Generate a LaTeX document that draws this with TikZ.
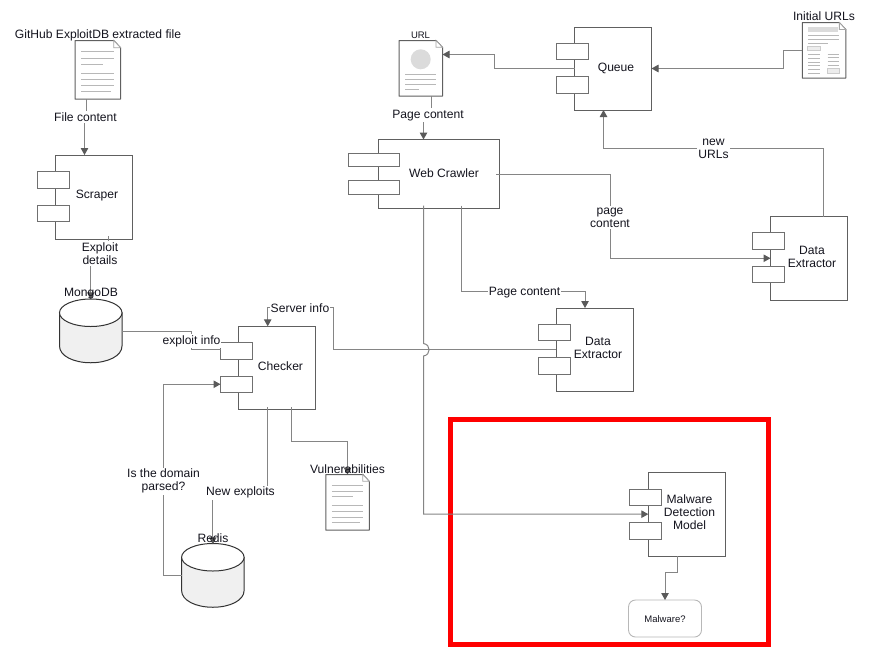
\documentclass[tikz,border=0pt]{standalone}
\usepackage{fontspec}
\setmainfont{Liberation Sans}
\usetikzlibrary{arrows.meta}
\definecolor{edgec}{HTML}{606060}
\definecolor{portc}{HTML}{707070}
\definecolor{connc}{HTML}{858585}
\definecolor{tipc}{HTML}{5A5A5A}
\definecolor{txtc}{HTML}{14141E}
\tikzset{
  mainbox/.style={draw=edgec,line width=1pt,fill=white,inner sep=0,outer sep=0},
  portbox/.style={draw=portc,line width=1pt,fill=white,inner sep=0,outer sep=0,minimum width=32pt,minimum height=16.5pt},
  widebox/.style={portbox,minimum width=51pt,minimum height=13.5pt},
  ghost/.style={inner sep=0,outer sep=0},
  lbl/.style={font=\fontsize{12.1}{13}\selectfont,text=txtc,align=center,inner sep=0,yshift=-1.3pt},
  small/.style={font=\fontsize{9.5}{11}\selectfont,text=txtc,align=center,inner sep=0,yshift=-1pt},
  whitelbl/.style={lbl,fill=white,inner xsep=1pt,inner ysep=1.5pt},
  conn/.style={draw=connc,line width=1pt,-{Triangle[length=7pt,width=7.5pt,fill=tipc,color=tipc]}},
  plainconn/.style={draw=connc,line width=1pt},
  docline/.style={draw=black!28,line width=.8pt},
  docedge/.style={draw=edgec,line width=1pt,fill=white,line join=round},
  foldedge/.style={draw=black!35,line width=.8pt,fill=white},
  dbbody/.style={draw=black!80,line width=1pt,fill=black!6},
  dbtop/.style={draw=black!80,line width=1pt,fill=white},
  redframe/.style={draw=red,line width=4.6pt,inner sep=0,outer sep=0,fill=none},
  softbox/.style={draw=black!28,line width=.9pt,rounded corners=7pt,fill=white,inner sep=0,outer sep=0},
}
% document outline in units of a 45.5 x 58.5 page
\newcommand{\pageoutline}[3]{%
  \begin{scope}[shift={(#1.north west)},x=#2pt,y=-#3pt]
    \draw[docedge] (0,0)--(38.8,0)--(45.5,7.2)--(45.5,58.5)--(0,58.5)--cycle;
    \draw[foldedge] (38.8,0)--(38.8,7.2)--(45.5,7.2)--cycle;
  \end{scope}}
\newcommand{\textlines}[3]{%
  \begin{scope}[shift={(#1.north west)},x=#2pt,y=-#3pt]
    \foreach \yy/\xx in {11.2/39.3,17.5/39.3,23.5/28,32.5/39.3,38.8/39.3,44.8/39.3,50.8/36}
      \draw[docline] (6.3,\yy)--(\xx,\yy);
  \end{scope}}
\newcommand{\dbshape}[1]{%
  \begin{scope}[shift={(#1.center)}]
    \draw[dbbody] (-31.25,-18.25)--(-31.25,15) .. controls (-31.25,25) and (-17,31.75) .. (0,31.75)
      .. controls (17,31.75) and (31.25,25) .. (31.25,15)--(31.25,-18.25)--cycle;
    \draw[dbtop] (0,-18.25) ellipse [x radius=31.25,y radius=13.75];
  \end{scope}}
\begin{document}
\begin{tikzpicture}[x=1pt,y=-1pt]
\useasboundingbox (0,0) rectangle (885,654);
\fill[white] (0,0) rectangle (885,654);

% frame
\node[redframe,minimum width=317.8pt,minimum height=224.6pt] (frame) at (609.4,532) {};

% components
\node[mainbox,minimum width=76.5pt,minimum height=84pt] (scraper) at (93.75,197) {};
\node[portbox] (scrA) at (53,179.75) {};
\node[portbox] (scrB) at (53,213.25) {};

\node[mainbox,minimum width=121pt,minimum height=69pt] (crawler) at (438.5,174) {};
\node[widebox] (craA) at (374,159.75) {};
\node[widebox] (craB) at (374,187.5) {};

\node[mainbox,minimum width=77pt,minimum height=83pt] (queue) at (613,68.5) {};
\node[portbox] (queA) at (572,51.25) {};
\node[portbox] (queB) at (572,84.75) {};

\node[mainbox,minimum width=76.5pt,minimum height=83.5pt] (deR) at (808.75,258.25) {};
\node[portbox] (deRA) at (768.25,240.75) {};
\node[portbox] (deRB) at (768.25,274.25) {};

\node[mainbox,minimum width=77pt,minimum height=83pt] (deM) at (594.5,349.5) {};
\node[portbox] (deMA) at (554,332.25) {};
\node[portbox] (deMB) at (554,366) {};

\node[mainbox,minimum width=76.75pt,minimum height=83.2pt] (checker) at (277.1,367.9) {};
\node[portbox] (chkA) at (236.5,350.75) {};
\node[portbox] (chkB) at (236.5,384.25) {};

\node[mainbox,minimum width=76.7pt,minimum height=83.7pt] (malware) at (686.65,514.15) {};
\node[portbox] (malA) at (645.5,497.25) {};
\node[portbox] (malB) at (645.5,530.75) {};

\node[softbox,minimum width=73pt,minimum height=37pt] (malq) at (665,618.5) {};

% documents
\node[ghost,minimum width=45.5pt,minimum height=58.5pt] (gh) at (97.75,69.75) {};
\pageoutline{gh}{1}{1}\textlines{gh}{1}{1}

\node[ghost,minimum width=43.5pt,minimum height=55.5pt] (vuln) at (347.5,502.25) {};
\pageoutline{vuln}{.956}{.949}\textlines{vuln}{.956}{.949}

\node[ghost,minimum width=43.5pt,minimum height=55.5pt] (url) at (420.75,68.25) {};
\pageoutline{url}{.956}{.949}
\fill[black!14] (420.7,59.3) circle [radius=10];
\foreach \yy/\xx in {74.3/436,79.3/436,84/436,89/419.3}
  \draw[docline] (405,\yy)--(\xx,\yy);

\node[ghost,minimum width=43.5pt,minimum height=55.5pt] (init) at (824,50.35) {};
\pageoutline{init}{.956}{.949}
\fill[black!14] (807.7,27) rectangle (837.7,31.7);
\foreach \yy/\xx in {35.3/839.3,39/839.3,43.3/828.3}
  \draw[docline] (808.3,\yy)--(\xx,\yy);
\draw[draw=black!20,fill=black!7,line width=.7pt] (807.7,46.3) rectangle (820,50.7);
\foreach \yy in {54,58.3,62.3,65.7,69.3,73.3}
  \draw[docline] (808,\yy)--(820,\yy);
\foreach \yy in {54,57.3,61.3,65}
  \draw[docline] (827.7,\yy)--(839.3,\yy);
\draw[draw=black!20,fill=black!7,line width=.7pt] (827.3,68.7) rectangle (839.3,73.3);

% databases
\node[ghost,minimum width=62.5pt,minimum height=63.5pt] (mongo) at (90.75,331) {};
\dbshape{mongo}
\node[ghost,minimum width=62.5pt,minimum height=62.5pt] (redis) at (212.85,575.5) {};
\dbshape{redis}

% connectors
\draw[conn] ([xshift=-11.75pt]gh.south) -- ++(0,16) -| ([xshift=-9.25pt]scraper.north);
\draw[conn] ([shift={(15pt,3pt)}]scraper.south) -- ++(0,17) -| (mongo.north);
\draw[conn] ([xshift=10.75pt]url.south) -- ++(0,17) -| ([xshift=-15pt]crawler.north);
\draw[conn] (queue.west) -- ++(-80.5,0) |- ([yshift=13.75pt]url.east);
\draw[conn] (init.west) -- ++(-18.8,0) |- (queue.east);
\draw[conn] ([xshift=14.75pt]deR.north) -- ++(0,-68.5) -| ([xshift=-9.5pt]queue.south);
\draw[conn] ([xshift=-3pt]crawler.east) -- ++(114,0) |- (deR.west);
\draw[conn] ([shift={(23pt,3pt)}]crawler.south) -- ++(0,85.5) -| ([xshift=-9.5pt]deM.north);
\draw[conn] ([shift={(-15pt,3pt)}]crawler.south) -- ++(0,138)
   .. controls +(7.5,1) and +(7.5,-1) .. ++(0,12.5) |- (malware.west);
\draw[conn] (deM.west) -- ++(-222.5,0) -- ++(0,-42) -| ([xshift=-9.4pt]checker.north);
\draw[plainconn] (mongo.east) -- ++(69.5,0) |- ([yshift=1.75pt]chkA.west);
\draw[conn] (redis.west) -- ++(-18.2,0) |- (chkB.west);
\draw[conn] ([shift={(-9.6pt,2.5pt)}]checker.south) -- ++(0,84) -| (redis.north);
\draw[conn] ([shift={(14.4pt,2.5pt)}]checker.south) -- ++(0,34.5) -| (vuln.north);
\draw[conn] ([xshift=-9.35pt]malware.south) -- ++(0,16.3) -| (malq.north);

% labels on connectors
\node[whitelbl] (l1) at (85.5,115.5) {File content};
\node[whitelbl] (l2) at (100,252.5) {Exploit\\details};
\node[whitelbl] (l3) at (428,114) {Page content};
\node[whitelbl] (l4) at (713.5,147.5) {new\\URLs};
\node[whitelbl] (l5) at (610,216.5) {page\\content};
\node[whitelbl] (l6) at (524.5,291) {Page content};
\node[whitelbl] (l7) at (300,306.5) {Server info};
\node[whitelbl] (l8) at (191.5,340) {exploit info};
\node[whitelbl] (l9) at (163.5,480) {Is the domain\\ parsed?};
\node[whitelbl] (l10) at (240.5,491.5) {New exploits};

% plain labels
\node[lbl] (t1) at (98,34.5) {GitHub ExploitDB extracted file};
\node[small] (t2) at (420.5,34.5) {URL};
\node[lbl] (t3) at (824,14.5) {Initial URLs};
\node[lbl] (t4) at (91,292.5) {MongoDB};
\node[lbl] (t5) at (213,537) {Redis};
\node[lbl] (t6) at (347.5,467.5) {Vulnerabilities};
\node[lbl] (t7) at (97,194.5) {Scraper};
\node[lbl] (t8) at (444,171.5) {Web Crawler};
\node[lbl] (t9) at (616,67) {Queue};
\node[lbl] (t10) at (812,255.5) {Data\\Extractor};
\node[lbl] (t11) at (598,347) {Data\\Extractor};
\node[lbl] (t12) at (280.5,365) {Checker};
\node[lbl] (t13) at (689.5,511) {Malware\\Detection\\Model};
\node[small] (t14) at (665,618.5) {Malware?};
\end{tikzpicture}
\end{document}
